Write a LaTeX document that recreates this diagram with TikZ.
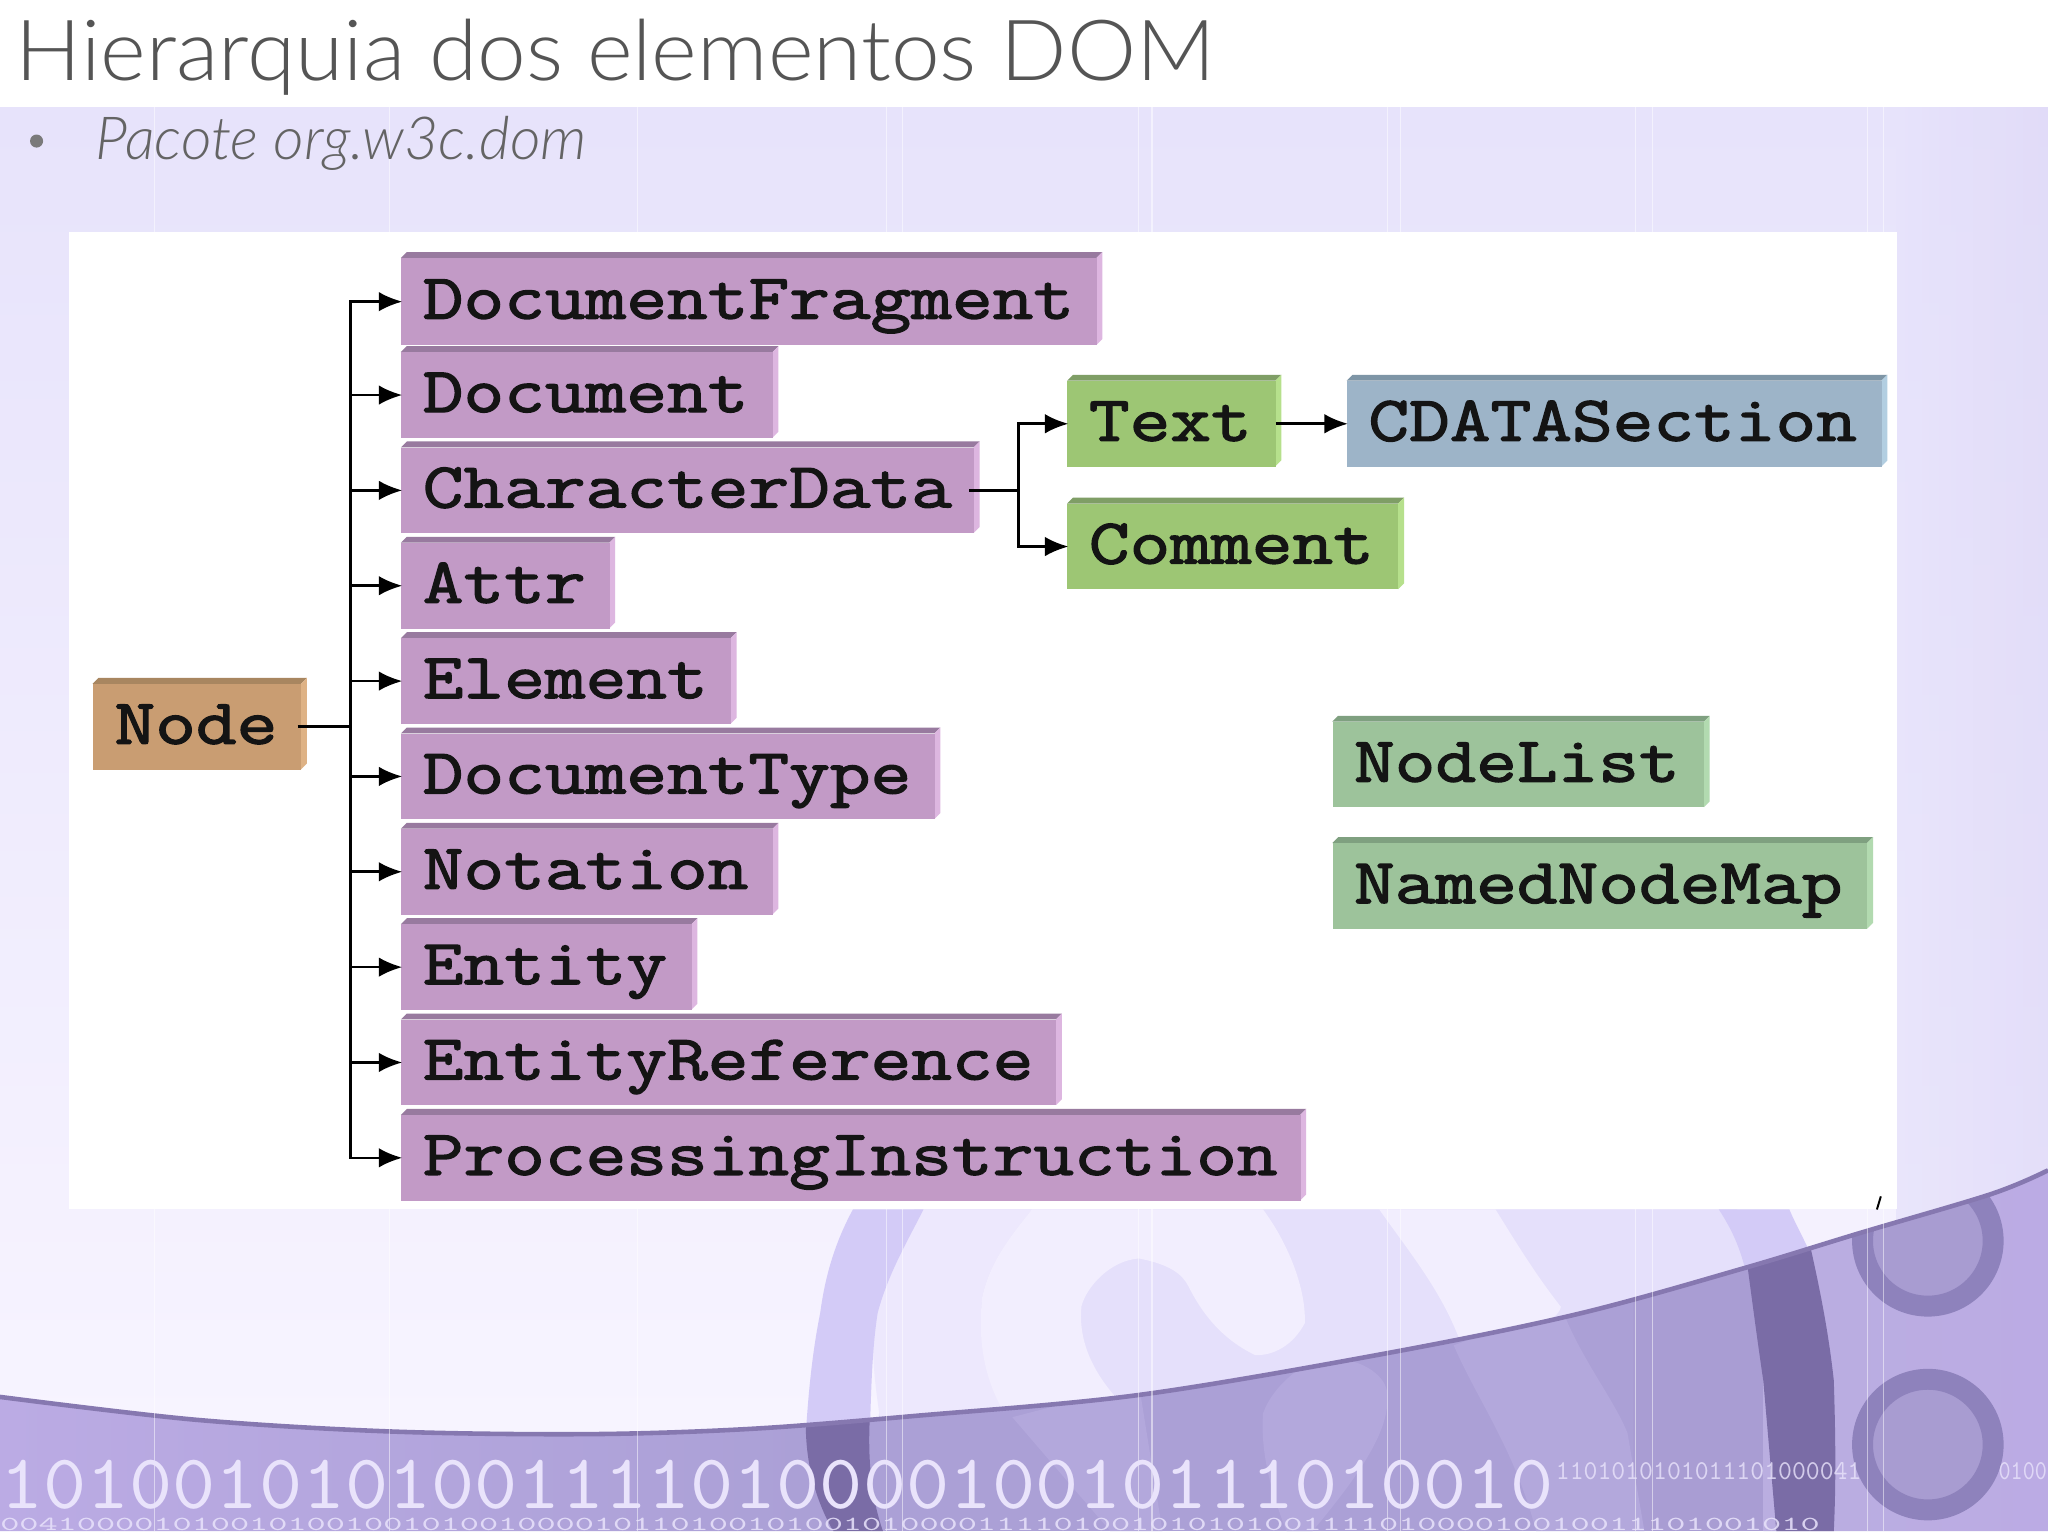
\documentclass[tikz,border=0pt]{standalone}
\usepackage{fontspec}
\usepackage{graphicx}
\usetikzlibrary{arrows.meta,calc}
\setmainfont{Liberation Sans}
\newfontfamily\titlefont{Lato Light}
\newfontfamily\boxfont[FakeBold=2.2,FakeStretch=1.235]{Latin Modern Mono}
\newfontfamily\bitfont{Latin Modern Mono}
\definecolor{pur}{HTML}{C29AC6}\definecolor{purT}{HTML}{987A9F}\definecolor{purR}{HTML}{DDB6E0}
\definecolor{grn}{HTML}{9DC674}\definecolor{grnT}{HTML}{7F9E66}\definecolor{grnR}{HTML}{B6E08C}
\definecolor{blu}{HTML}{9DB4C8}\definecolor{bluT}{HTML}{7E95A6}\definecolor{bluR}{HTML}{B2CEE1}
\definecolor{sag}{HTML}{9DC39B}\definecolor{sagT}{HTML}{7FA080}\definecolor{sagR}{HTML}{B2DAB0}
\definecolor{tan}{HTML}{C99D72}\definecolor{tanT}{HTML}{A88660}\definecolor{tanR}{HTML}{DEB285}
\definecolor{swoosh}{HTML}{D3CBF7}
\definecolor{darkband}{HTML}{7A6CA6}
\definecolor{ringc}{HTML}{8E82BC}
\definecolor{ringin}{HTML}{A89CD1}
\definecolor{titlegray}{HTML}{555555}
\definecolor{bitc}{HTML}{E9E3FB}
\definecolor{bgtop}{HTML}{E7E3FB}
\definecolor{bgbot}{HTML}{F7F4FF}
\definecolor{bgright}{HTML}{E0DAF8}
\definecolor{palea}{HTML}{E5E0FB}
\definecolor{paleb}{HTML}{F2EEFE}
\definecolor{palec}{HTML}{EDE8FD}
\definecolor{gndl}{HTML}{BBABE4}
\definecolor{gndr}{HTML}{ABA0D6}
\definecolor{gndm}{HTML}{A99DD3}
\definecolor{gnde}{HTML}{BAAEE0}
\definecolor{gndn}{HTML}{B3A8DC}
\definecolor{edgec}{HTML}{8678B0}
\definecolor{bulletc}{HTML}{7A7A7A}
\definecolor{subc}{HTML}{646464}
\tikzset{
  conn/.style={draw=black,line width=2pt},
  arr/.style={conn,-{Latex[length=18pt,width=15pt]},shorten >=-1pt},
  boxtext/.style={font=\boxfont\fontsize{49}{49}\selectfont,text=black!92,inner ysep=0pt,inner xsep=16.5pt,
     align=left,text height=30pt,text depth=4pt},
}
% \bx{name}{text}{left}{top}{right}{bottom}{colour}
\newcommand{\bx}[7]{%
  \pgfmathsetmacro{\bl}{#3}\pgfmathsetmacro{\bt}{#4}\pgfmathsetmacro{\brr}{#5}\pgfmathsetmacro{\bbt}{#6}%
  \pgfmathsetmacro{\fr}{\brr-4.5}\pgfmathsetmacro{\ft}{\bt+4.5}%
  \pgfmathsetmacro{\lc}{\bl+4.5}\pgfmathsetmacro{\rb}{\bbt-4.5}%
  \fill[#7T] (\bl,\ft)--(\lc,\bt)--(\brr,\bt)--(\fr,\ft)--cycle;
  \fill[#7R] (\fr,\ft)--(\brr,\bt)--(\brr,\rb)--(\fr,\bbt)--cycle;
  \pgfmathsetmacro{\fw}{\fr-\bl}\pgfmathsetmacro{\fh}{\bbt-\ft}\pgfmathsetmacro{\tw}{\fw-33}%
  \node[boxtext,fill=#7,minimum height=\fh pt,text width=\tw pt,anchor=north west] (#1) at (\bl,\ft) {\mbox{#2}};
}
\def\curvepts{(0,1069.5) (150,1087) (300,1096) (450,1098) (574,1094) (701,1084) (872,1068) (1062,1036) (1208,1006) (1335,971) (1424,944) (1525,914) (1568,896)}
\begin{document}
\begin{tikzpicture}[x=1pt,y=-1pt]
\useasboundingbox (0,0) rectangle (1568,1172.2);
% backdrop
\fill[white] (0,0) rectangle (1568,83);
\shade[top color=bgtop,bottom color=bgbot] (0,82) rectangle (1568,1100);
\shade[left color=bgtop,right color=bgright,opacity=.8] (1452,82) rectangle (1568,1000);
% pale swirls above the curve
\fill[palea] (700,926) -- (1330,926) -- (1345,1000) -- (670,1100) -- cycle;
\fill[palec] (707,926) .. controls (685,950) and (672,980) .. (669,1005) .. controls (667,1040) and (670,1060) .. (675,1095) -- (780,1095) .. controls (760,1060) and (748,1030) .. (752,993) .. controls (758,965) and (775,945) .. (790,926) -- cycle;
\fill[paleb] (790,926) .. controls (775,945) and (758,965) .. (752,993) .. controls (748,1030) and (755,1060) .. (771,1085) -- (859,1075) .. controls (840,1055) and (825,1030) .. (828,1000) .. controls (832,985) and (850,965) .. (872,963.5) .. controls (895,968) and (905,975) .. (910,985) .. controls (920,1005) and (935,1025) .. (961,1037.5) .. controls (975,1038) and (990,1030) .. (999,1013) .. controls (1000,985) and (985,950) .. (967,926) -- cycle;
\fill[paleb] (1056,926) .. controls (1080,960) and (1105,990) .. (1119,1030) -- (1160,1025) .. controls (1185,1015) and (1195,1005) .. (1195,1000.5) .. controls (1175,975) and (1160,950) .. (1145,926) -- cycle;
\fill[swoosh] (653,926) .. controls (640,950) and (632,975) .. (628,1005) .. controls (622,1035) and (619,1065) .. (617,1097) -- (666,1097) .. controls (667,1060) and (668,1030) .. (672,1005) .. controls (680,975) and (695,950) .. (707,926) -- cycle;
\fill[swoosh] (1316,926) .. controls (1325,940) and (1333,955) .. (1338,980) -- (1387,962) .. controls (1382,950) and (1375,938) .. (1370,926) -- cycle;
% purple ground under the curve
\begin{scope}
  \clip plot[smooth,tension=.55] coordinates {\curvepts} -- (1568,1172.2) -- (0,1172.2) -- cycle;
  \shade[left color=gndl,right color=gndr] (0,880) rectangle (620,1172.2);
  \fill[gndr] (620,880) rectangle (1250,1172.2);
  \fill[gndm] (1250,880) rectangle (1350,1172.2);
  \shade[left color=gnde,right color=gndl] (1350,880) rectangle (1568,1172.2);
  \fill[gndn] (775,1085) -- (872,1060) -- (890,1172.2) -- (850,1172.2) -- cycle;
  \fill[gndn] (967,1082) .. controls (975,1060) and (1000,1040) .. (1018,1040) .. controls (1045,1040) and (1062,1055) .. (1062,1067) .. controls (1065,1095) and (1040,1130) .. (1005,1172.2) -- (985,1172.2) .. controls (972,1140) and (965,1110) .. (967,1082) -- cycle;
  \fill[gndn] (1113,1030) -- (1195,1000) .. controls (1210,1040) and (1235,1070) .. (1246,1097) -- (1259,1172.2) -- (1176,1172.2) .. controls (1160,1110) and (1130,1070) .. (1113,1030) -- cycle;
  \fill[darkband] (617,1085) .. controls (616,1120) and (625,1150) .. (638,1172.2) -- (676,1172.2) .. controls (668,1150) and (664,1120) .. (666,1085) -- cycle;
  \fill[darkband] (1338,970) .. controls (1342,1000) and (1346,1030) .. (1350,1057) -- (1360,1172.2) -- (1404,1172.2) .. controls (1406,1130) and (1405,1090) .. (1404,1057) .. controls (1400,1020) and (1393,985) .. (1385,950) -- cycle;
  \filldraw[draw=ringc,fill=ringin,line width=16pt] (1476,950) circle (50);
  \filldraw[draw=ringc,fill=ringin,line width=16pt] (1476,1106) circle (50);
\end{scope}
\draw[edgec,line width=3.5pt] plot[smooth,tension=.55] coordinates {\curvepts};
% hairlines
\foreach \hx in {118,298,488,679,691,872,882,1062,1072,1252,1265,1430,1442}
  \draw[white,opacity=.5,line width=.8pt] (\hx,82) -- (\hx,1172.2);
% binary strip
\node[anchor=base west,inner sep=0pt,text=bitc] (bitsA) at (0,1155)
  {\resizebox{1189pt}{37pt}{\bitfont\bfseries 101001010100111101000010010111010010}};
\node[anchor=base west,inner sep=0pt,text=bitc,opacity=.8] (bitsB) at (1191,1133)
  {\resizebox{234pt}{13pt}{\bitfont 1101010101011101000041}};
\node[anchor=base west,inner sep=0pt,text=bitc,opacity=.8] (bitsC) at (1530,1133)
  {\resizebox{37pt}{13pt}{\bitfont 0100}};
\node[anchor=base west,inner sep=0pt,text=bitc,opacity=.85] (bitsD) at (0,1171.5)
  {\resizebox{1393pt}{9.5pt}{\bitfont 00410000101001010010010100100001011010010100101000011110100101010100111101000010010011101001010}};
% heading
\node[anchor=base west,inner sep=0pt,text=titlegray] (title) at (12,61.5)
  {\resizebox{918pt}{47pt}{\titlefont Hierarquia dos elementos DOM}};
\fill[bulletc] (28,108) circle (5);
\node[anchor=base west,inner sep=0pt,text=subc] (sub) at (73,122)
  {\resizebox{376pt}{!}{\titlefont\itshape Pacote org.w3c.dom}};
% white panel
\fill[white] (53,178) rectangle (1452,926);
\draw[black,line width=1.5pt] (1440,916) -- (1437,926);
% boxes
\bx{DF}{DocumentFragment}{307}{193}{844}{264}{pur}
\bx{Doc}{Document}{307}{265}{596}{335}{pur}
\bx{CD}{CharacterData}{307}{338}{750}{408}{pur}
\bx{At}{Attr}{307}{411}{471}{481}{pur}
\bx{El}{Element}{307}{484}{564}{554}{pur}
\bx{DT}{DocumentType}{307}{557}{720}{627}{pur}
\bx{No}{Notation}{307}{630}{596}{700}{pur}
\bx{En}{Entity}{307}{703}{534}{773}{pur}
\bx{ER}{EntityReference}{307}{776}{813}{846}{pur}
\bx{PI}{ProcessingInstruction}{307}{849}{1000}{919}{pur}
\bx{Tx}{Text}{817}{287}{981}{357}{grn}
\bx{Cm}{Comment}{817}{381}{1075}{451}{grn}
\bx{CS}{CDATASection}{1031}{287}{1445}{357}{blu}
\bx{NL}{NodeList}{1020}{548}{1309}{618}{sag}
\bx{NM}{NamedNodeMap}{1020}{641}{1434}{711}{sag}
\bx{Nd}{Node}{71}{519}{235}{589}{tan}
% connectors
\coordinate (trunkx) at (268.5,0);
\coordinate (forkx) at (780,0);
\coordinate (trunk) at (trunkx |- Nd.east);
\coordinate (fork) at (forkx |- CD.east);
\draw[conn] ([xshift=-3pt]Nd.east) -- (trunk);
\draw[arr] (trunk) |- (DF.west);
\draw[arr] (trunk) |- (PI.west);
\foreach \t in {Doc,CD,At,El,DT,No,En,ER}
  \draw[arr] (trunk |- \t.west) -- (\t.west);
\draw[conn] ([xshift=-4pt]CD.east) -- (fork);
\draw[arr] (fork) |- (Tx.west);
\draw[arr] (fork) |- (Cm.west);
\draw[arr] (Tx.east) -- (CS.west);
\end{tikzpicture}
\end{document}
